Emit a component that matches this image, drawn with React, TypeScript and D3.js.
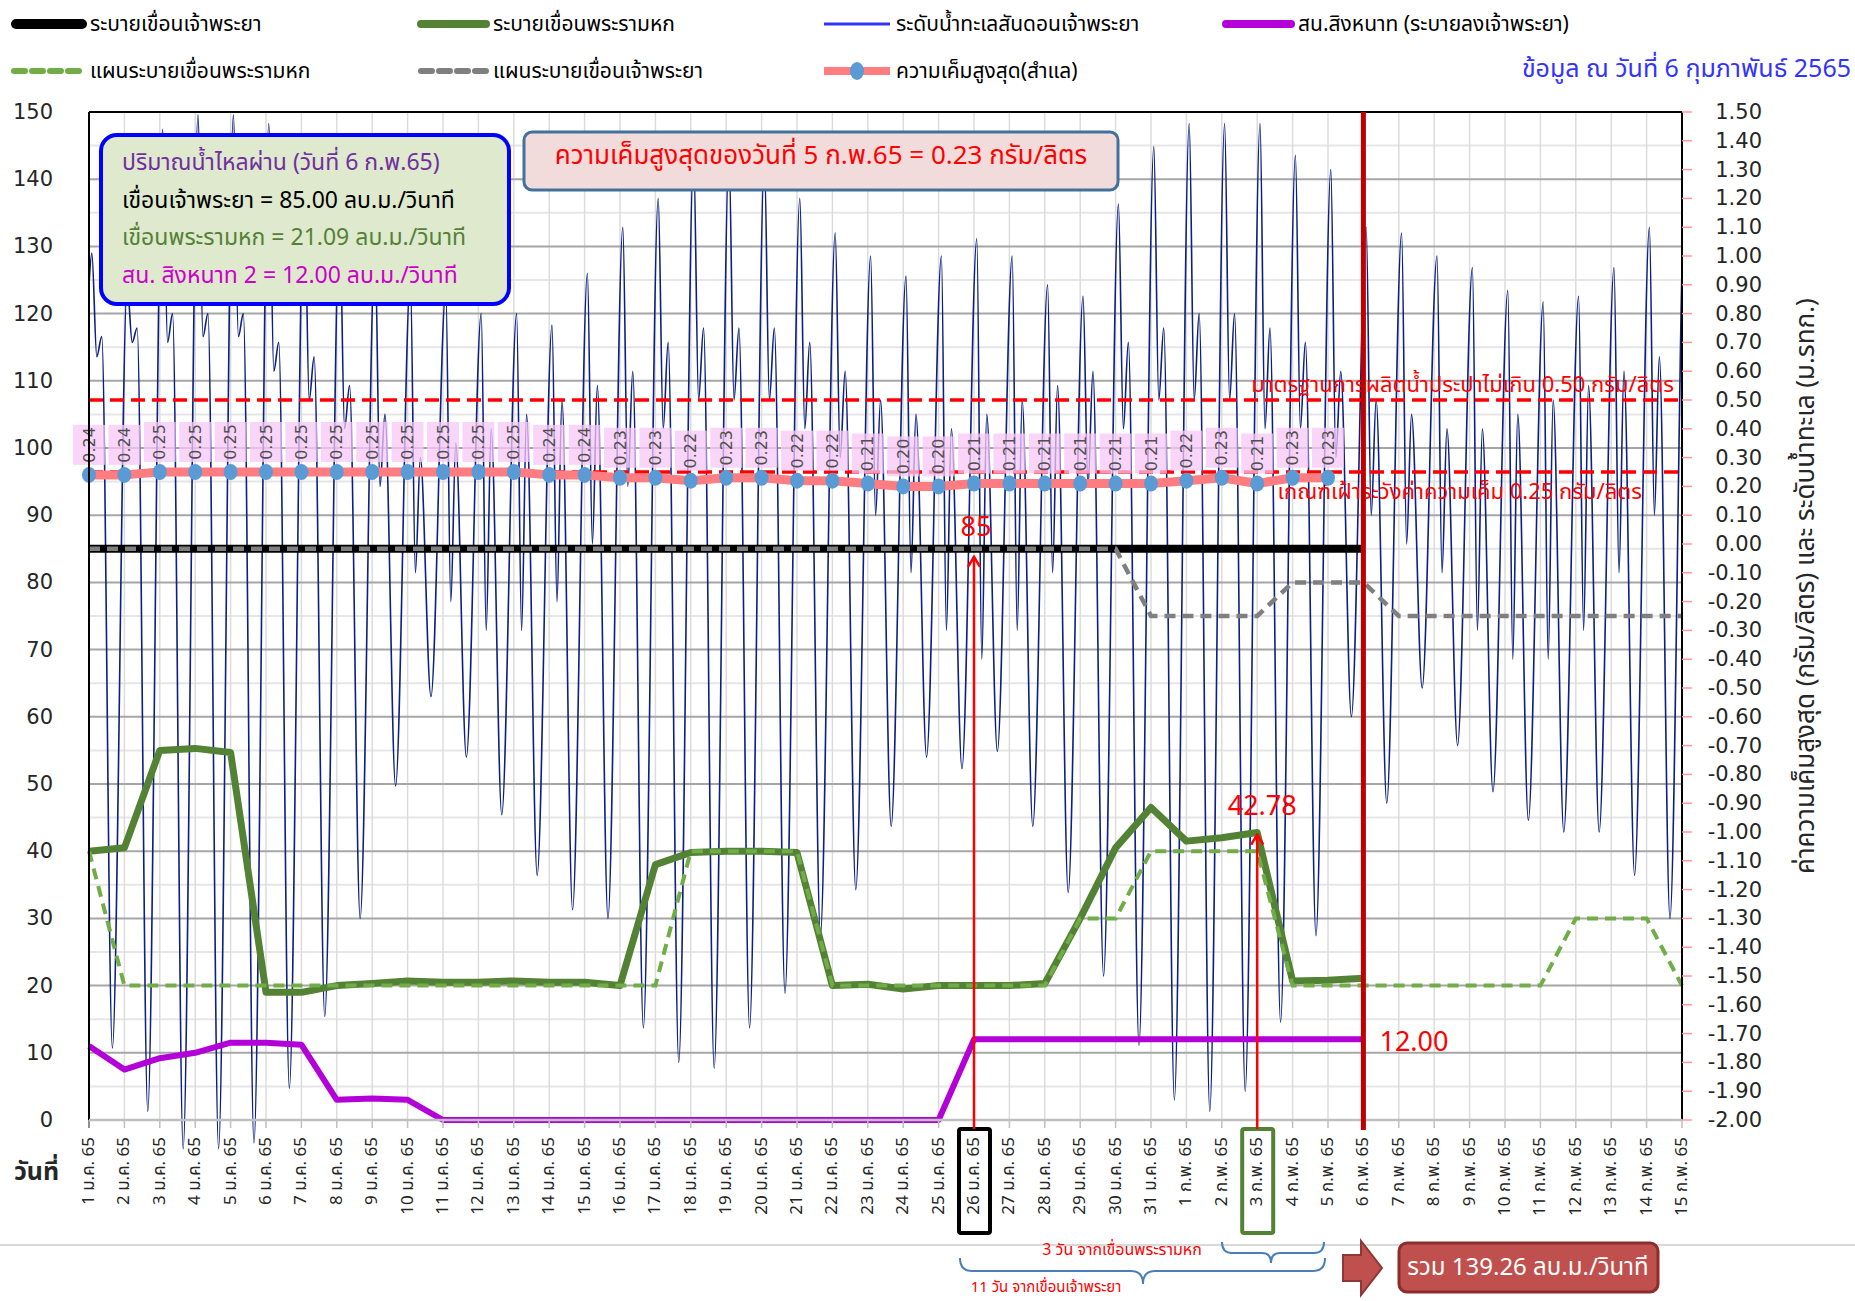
import React from "react";
import * as d3 from "d3";

const W = 1855, H = 1301;
const X0 = 89, X1 = 1682, YT = 112, YB = 1120;
const FONT = "Tahoma, 'Noto Sans Thai', 'Leelawadee UI', 'Noto Sans', 'DejaVu Sans', sans-serif";
const NUMFONT = "Verdana, 'DejaVu Sans', sans-serif";

// ---- categories / tick labels ----
const janLabels = d3.range(1, 32).map((d) => `${d} ม.ค. 65`);
const febLabels = d3.range(1, 16).map((d) => `${d} ก.พ. 65`);
const dayLabels = [...janLabels, ...febLabels]; // 46 days
const leftTicks = d3.range(0, 151, 10);
const rightTicks = d3.range(-20, 16, 1).map((v) => v / 10);

// ---- series (left axis, m3/s) ----
const chaoPhraya = [85, 85, 85, 85, 85, 85, 85, 85, 85, 85, 85, 85, 85, 85, 85, 85, 85, 85, 85, 85, 85, 85, 85, 85, 85, 85, 85, 85, 85, 85, 85, 85, 85, 85, 85, 85, 85];
const chaoPhrayaPlan = [85, 85, 85, 85, 85, 85, 85, 85, 85, 85, 85, 85, 85, 85, 85, 85, 85, 85, 85, 85, 85, 85, 85, 85, 85, 85, 85, 85, 85, 85, 75, 75, 75, 75, 80, 80, 80, 75, 75, 75, 75, 75, 75, 75, 75, 75];
const ramaVI = [40, 40.5, 55, 55.3, 54.7, 19, 19, 20, 20.3, 20.7, 20.5, 20.5, 20.7, 20.5, 20.5, 20, 38, 39.8, 40, 40, 39.8, 20, 20.2, 19.5, 20, 20, 20, 20.3, 30, 40.5, 46.5, 41.5, 42, 42.78, 20.7, 20.8, 21.09];
const ramaVIPlan = [40, 20, 20, 20, 20, 20, 20, 20, 20, 20, 20, 20, 20, 20, 20, 20, 20, 40, 40, 40, 40, 20, 20, 20, 20, 20, 20, 20, 30, 30, 40, 40, 40, 40, 20, 20, 20, 20, 20, 20, 20, 20, 30, 30, 30, 20];
const singhanat = [11, 7.5, 9.2, 10, 11.5, 11.5, 11.2, 3, 3.2, 3, 0, 0, 0, 0, 0, 0, 0, 0, 0, 0, 0, 0, 0, 0, 0, 12, 12, 12, 12, 12, 12, 12, 12, 12, 12, 12, 12];

// ---- right axis: salinity (g/l) ----
const salinity = [0.24, 0.24, 0.25, 0.25, 0.25, 0.25, 0.25, 0.25, 0.25, 0.25, 0.25, 0.25, 0.25, 0.24, 0.24, 0.23, 0.23, 0.22, 0.23, 0.23, 0.22, 0.22, 0.21, 0.2, 0.2, 0.21, 0.21, 0.21, 0.21, 0.21, 0.21, 0.22, 0.23, 0.21, 0.23, 0.23];

// ---- right axis: sea level at Chao Phraya bar (m), daily tide features ----
const tideHigh = [1.01, 0.9, 1.44, 1.49, 1.49, 1.46, 1.27, 1.13, 1.03, 0.92, 0.88, 0.8, 0.8, 0.76, 0.94, 1.1, 1.2, 1.35, 1.35, 1.33, 1.2, 1.08, 1.0, 0.93, 1.0, 1.06, 1.0, 0.9, 0.86, 1.18, 1.38, 1.46, 1.46, 1.46, 1.35, 1.3, 1.1, 1.08, 1.0, 0.96, 0.88, 0.84, 0.86, 0.96, 1.1, 1.2];
const tideDip = [0.65, 0.7, 0.7, 0.72, 0.72, 0.6, 0.5, 0.4, 0.2, -0.1, -0.2, -0.3, -0.3, -0.2, 0.0, 0.2, 0.4, 0.5, 0.5, 0.5, 0.4, 0.3, 0.1, -0.1, -0.3, -0.4, -0.3, -0.1, 0.2, 0.4, 0.5, 0.5, 0.5, 0.4, 0.4, 0.3, 0.1, 0.0, -0.1, -0.3, -0.4, -0.4, -0.3, -0.1, 0.1, 0.3];
const tideHump = [0.72, 0.75, 0.8, 0.8, 0.8, 0.7, 0.65, 0.55, 0.45, 0.3, 0.35, 0.4, 0.45, 0.5, 0.55, 0.6, 0.7, 0.75, 0.75, 0.75, 0.7, 0.6, 0.5, 0.45, 0.4, 0.45, 0.5, 0.55, 0.6, 0.7, 0.75, 0.8, 0.8, 0.75, 0.7, 0.6, 0.5, 0.45, 0.4, 0.4, 0.45, 0.5, 0.55, 0.6, 0.65, 0.7];
const tideLow = [-1.75, -1.97, -2.1, -2.1, -2.08, -1.89, -1.64, -1.3, -0.84, -0.53, -0.74, -0.94, -1.15, -1.27, -1.3, -1.68, -1.8, -1.82, -1.68, -1.56, -1.36, -1.2, -0.98, -0.74, -0.78, -0.72, -0.98, -1.21, -1.5, -1.74, -1.93, -1.97, -1.9, -1.66, -1.36, -0.6, -0.9, -0.5, -0.7, -0.86, -0.96, -1.0, -1.0, -1.15, -1.3, -1.3];

export default function App() {
  const x = d3.scaleLinear().domain([1, 46]).range([X0, X1]);
  const yL = d3.scaleLinear().domain([0, 150]).range([YB, YT]);
  const yR = d3.scaleLinear().domain([-2, 1.5]).range([YB, YT]);
  const days = d3.range(1, 47);

  const tide: [number, number][] = [[1, 0.9]];
  days.forEach((d, i) => {
    tide.push([d + 0.08, tideHigh[i]], [d + 0.22, tideDip[i]], [d + 0.36, tideHump[i]], [d + 0.66, tideLow[i]]);
  });

  const lineL = d3.line<number>().x((_, i) => x(i + 1)).y((v) => yL(v));
  const lineR = d3.line<number>().x((_, i) => x(i + 1)).y((v) => yR(v));
  const tideLine = d3.line<[number, number]>().x((d) => x(d[0])).y((d) => yR(d[1])).curve(d3.curveMonotoneX);

  const xDay26 = x(26), xDay34 = x(34), xDay37 = x(37);

  return (
    <svg width={W} height={H} style={{ position: "absolute", left: 0, top: 0, background: "#fff" }} fontFamily={FONT}>
      <defs>
        <marker id="arrowRed" viewBox="0 0 14 14" refX="12" refY="7" markerWidth="14" markerHeight="14" orient="auto" markerUnits="userSpaceOnUse">
          <path d="M2,1 L12,7 L2,13" fill="none" stroke="#ff0000" strokeWidth="2.5" />
        </marker>
        <clipPath id="plotClip">
          <rect x={X0} y={YT} width={X1 - X0} height={YB - YT + 70} />
        </clipPath>
      </defs>

      {/* minor horizontal grid */}
      {d3.range(5, 150, 10).map((v) => (
        <line key={"mg" + v} x1={X0} x2={X1} y1={yL(v)} y2={yL(v)} stroke="#e6e6e6" strokeWidth={2} />
      ))}
      {/* vertical grid */}
      {days.map((d) => (
        <line key={"vg" + d} x1={x(d)} x2={x(d)} y1={YT} y2={YB} stroke="#dcdcdc" strokeWidth={1.5} />
      ))}
      {/* major horizontal grid */}
      {leftTicks.slice(1).map((v) => (
        <line key={"g" + v} x1={X0} x2={X1} y1={yL(v)} y2={yL(v)} stroke="#a6a6a6" strokeWidth={2} />
      ))}

      {/* tide */}
      <path d={tideLine(tide) || ""} fill="none" stroke="#0d1f80" strokeWidth={1.6} clipPath="url(#plotClip)" />

      {/* red dashed thresholds */}
      <line x1={X0} x2={X1} y1={yR(0.5)} y2={yR(0.5)} stroke="#ff0000" strokeWidth={3.5} strokeDasharray="14,7" />
      <line x1={X0} x2={X1} y1={yR(0.25)} y2={yR(0.25)} stroke="#ff0000" strokeWidth={3.5} strokeDasharray="14,7" />
      <text x={1674} y={392} textAnchor="end" fill="#ff0000" fontSize={22}>มาตรฐานการผลิตน้ำประปาไม่เกิน 0.50 กรัม/ลิตร</text>
      <text x={1642} y={499} textAnchor="end" fill="#ff0000" fontSize={22}>เกณฑ์เฝ้าระวังค่าความเค็ม 0.25 กรัม/ลิตร</text>

      {/* salinity labels */}
      {salinity.map((v, i) => (
        <rect key={"sb" + i} x={x(i + 1) - 16} y={yR(v) - 50} width={32} height={40} fill="#f7c8f7" opacity={0.75} />
      ))}
      {salinity.map((v, i) => (
        <text key={"st" + i} transform={`translate(${x(i + 1)},${yR(v) - 30}) rotate(-90)`} textAnchor="middle" dominantBaseline="central" fill="#505050" fontSize={16} fontFamily={NUMFONT}>
          {v.toFixed(2)}
        </text>
      ))}

      {/* salinity line */}
      <path d={lineR(salinity) || ""} fill="none" stroke="#ff7c80" strokeWidth={9} strokeLinejoin="round" />
      {salinity.map((v, i) => (
        <ellipse key={"sd" + i} cx={x(i + 1)} cy={yR(v)} rx={7} ry={8} fill="#5b9bd5" />
      ))}

      {/* Chao Phraya release */}
      <path d={lineL(chaoPhraya) || ""} fill="none" stroke="#000" strokeWidth={8} />
      <path d={lineL(chaoPhrayaPlan) || ""} fill="none" stroke="#7f7f7f" strokeWidth={4.5} strokeDasharray="11,7" />

      {/* Rama VI */}
      <path d={lineL(ramaVI) || ""} fill="none" stroke="#548235" strokeWidth={7} strokeLinejoin="round" />
      <path d={lineL(ramaVIPlan) || ""} fill="none" stroke="#70ad47" strokeWidth={4} strokeDasharray="11,7" />

      {/* Singhanat */}
      <path d={lineL(singhanat) || ""} fill="none" stroke="#b400d8" strokeWidth={6} strokeLinejoin="round" />

      {/* plot borders */}
      <line x1={X0} x2={X1} y1={YT} y2={YT} stroke="#000" strokeWidth={2} />
      <line x1={X0} x2={X0} y1={YT} y2={YB + 8} stroke="#000" strokeWidth={2} />
      <line x1={X1} x2={X1} y1={YT} y2={YB} stroke="#000" strokeWidth={2} />
      <line x1={X0} x2={X1} y1={YB} y2={YB} stroke="#bfbfbf" strokeWidth={2.5} />
      {days.map((d) => (
        <line key={"xt" + d} x1={x(d)} x2={x(d)} y1={YB} y2={YB + 8} stroke="#bfbfbf" strokeWidth={1.5} />
      ))}
      {rightTicks.map((v) => (
        <line key={"rt" + v} x1={X1} x2={X1 + 10} y1={yR(v)} y2={yR(v)} stroke="#ff9a9a" strokeWidth={1.5} />
      ))}

      {/* left axis labels */}
      {leftTicks.map((v) => (
        <text key={"lt" + v} x={53} y={yL(v)} textAnchor="end" dominantBaseline="central" fontSize={21} fill="#262626" fontFamily={NUMFONT}>{v}</text>
      ))}
      {/* right axis labels */}
      {rightTicks.map((v) => (
        <text key={"rl" + v} x={1762} y={yR(v)} textAnchor="end" dominantBaseline="central" fontSize={21} fill="#262626" fontFamily={NUMFONT}>{v.toFixed(2)}</text>
      ))}
      <text transform="translate(1806,586) rotate(-90)" textAnchor="middle" dominantBaseline="central" fontSize={26} fill="#262626">ค่าความเค็มสูงสุด  (กรัม/ลิตร) และ ระดับน้ำทะเล (ม.รทก.)</text>

      {/* x labels */}
      {dayLabels.map((lab, i) => (
        <text key={"xl" + i} transform={`translate(${x(i + 1)},1137) rotate(-90)`} textAnchor="end" dominantBaseline="central" fontSize={17} fill="#262626">{lab}</text>
      ))}
      <text x={14} y={1180} fontSize={25} fontWeight={700} fill="#262626">วันที่</text>

      {/* highlight boxes */}
      <rect x={xDay26 - 15} y={1129} width={31} height={104} fill="none" stroke="#000" strokeWidth={4} rx={2} />
      <rect x={xDay34 - 15} y={1129} width={31} height={104} fill="none" stroke="#548235" strokeWidth={4} rx={2} />

      {/* red arrows */}
      <line x1={xDay26} x2={xDay26} y1={1129} y2={yL(85) + 8} stroke="#ff0000" strokeWidth={2.5} markerEnd="url(#arrowRed)" />
      <line x1={xDay34} x2={xDay34} y1={1129} y2={yL(42.78) + 2} stroke="#ff0000" strokeWidth={2.5} markerEnd="url(#arrowRed)" />
      <text x={xDay26 + 2} y={527} textAnchor="middle" dominantBaseline="central" fill="#ff0000" fontSize={27}>85</text>
      <text x={xDay34 + 5} y={806} textAnchor="middle" dominantBaseline="central" fill="#ff0000" fontSize={27}>42.78</text>

      {/* today line */}
      <line x1={xDay37} x2={xDay37} y1={YT} y2={1130} stroke="#c00000" strokeWidth={5} />
      <text x={1414} y={1042} textAnchor="middle" dominantBaseline="central" fill="#ff0000" fontSize={27}>12.00</text>

      {/* info box */}
      <rect x={101} y={135} width={408} height={169} rx={16} fill="#dfe9cd" stroke="#0000ff" strokeWidth={4} />
      <text x={122} y={163} fontSize={23} fill="#7030a0" dominantBaseline="central">ปริมาณน้ำไหลผ่าน (วันที่ 6 ก.พ.65)</text>
      <text x={122} y={201} fontSize={23} fill="#000" dominantBaseline="central">เขื่อนเจ้าพระยา = 85.00 ลบ.ม./วินาที</text>
      <text x={122} y={238} fontSize={23} fill="#548235" dominantBaseline="central">เขื่อนพระรามหก = 21.09 ลบ.ม./วินาที</text>
      <text x={122} y={276} fontSize={23} fill="#cc00cc" dominantBaseline="central">สน. สิงหนาท 2 = 12.00 ลบ.ม./วินาที</text>

      {/* header box */}
      <rect x={524} y={132} width={594} height={58} rx={8} fill="#f2dcdb" stroke="#41719c" strokeWidth={3} />
      <text x={821} y={156} textAnchor="middle" dominantBaseline="central" fontSize={26} fill="#ff0000">ความเค็มสูงสุดของวันที่ 5 ก.พ.65 = 0.23 กรัม/ลิตร</text>

      {/* legend */}
      <g fontSize={21} fill="#000">
        <line x1={16} x2={82} y1={24} y2={24} stroke="#000" strokeWidth={10} strokeLinecap="round" />
        <text x={90} y={24} dominantBaseline="central">ระบายเขื่อนเจ้าพระยา</text>
        <line x1={421} x2={486} y1={24} y2={24} stroke="#548235" strokeWidth={8} strokeLinecap="round" />
        <text x={493} y={24} dominantBaseline="central">ระบายเขื่อนพระรามหก</text>
        <line x1={824} x2={890} y1={24} y2={24} stroke="#3333ff" strokeWidth={3} />
        <text x={896} y={24} dominantBaseline="central">ระดับน้ำทะเลสันดอนเจ้าพระยา</text>
        <line x1={1226} x2={1291} y1={24} y2={24} stroke="#b400d8" strokeWidth={8} strokeLinecap="round" />
        <text x={1298} y={24} dominantBaseline="central">สน.สิงหนาท  (ระบายลงเจ้าพระยา)</text>

        <line x1={14} x2={85} y1={71} y2={71} stroke="#70ad47" strokeWidth={6} strokeDasharray="11,7" strokeLinecap="round" />
        <text x={90} y={71} dominantBaseline="central">แผนระบายเขื่อนพระรามหก</text>
        <line x1={421} x2={489} y1={71} y2={71} stroke="#7f7f7f" strokeWidth={6} strokeDasharray="11,7" strokeLinecap="round" />
        <text x={493} y={71} dominantBaseline="central">แผนระบายเขื่อนเจ้าพระยา</text>
        <line x1={824} x2={890} y1={71} y2={71} stroke="#ff7c80" strokeWidth={8} />
        <ellipse cx={857} cy={71} rx={7} ry={9} fill="#5b9bd5" />
        <text x={896} y={71} dominantBaseline="central">ความเค็มสูงสุด(สำแล)</text>
      </g>
      <text x={1851} y={69} textAnchor="end" dominantBaseline="central" fontSize={25} fill="#3333ff">ข้อมูล ณ วันที่ 6 กุมภาพันธ์ 2565</text>

      {/* bottom annotations */}
      <line x1={0} x2={W} y1={1245} y2={1245} stroke="#d9d9d9" strokeWidth={2} />
      <path d="M1222,1242 Q1222,1253 1232,1253 L1262,1253 Q1271,1253 1271,1263 Q1271,1253 1280,1253 L1314,1253 Q1324,1253 1324,1242" fill="none" stroke="#4a7ebb" strokeWidth={2} />
      <path d="M960,1258 Q960,1271 972,1271 L1131,1271 Q1143,1271 1143,1284 Q1143,1271 1155,1271 L1313,1271 Q1325,1271 1325,1258" fill="none" stroke="#4a7ebb" strokeWidth={2} />
      <text x={1122} y={1250} textAnchor="middle" dominantBaseline="central" fontSize={16} fill="#ff0000">3 วัน จากเขื่อนพระรามหก</text>
      <text x={1046} y={1287} textAnchor="middle" dominantBaseline="central" fontSize={15} fill="#ff0000">11 วัน จากเขื่อนเจ้าพระยา</text>
      <path d="M1343,1255 L1361,1255 L1361,1241 L1382,1268 L1361,1295 L1361,1281 L1343,1281 Z" fill="#c0504d" stroke="#8c3836" strokeWidth={2} />
      <rect x={1399} y={1243} width={259} height={49} rx={8} fill="#c0504d" stroke="#8b2e2b" strokeWidth={3} />
      <text x={1528} y={1268} textAnchor="middle" dominantBaseline="central" fontSize={24} fill="#fff">รวม 139.26 ลบ.ม./วินาที</text>
    </svg>
  );
}
